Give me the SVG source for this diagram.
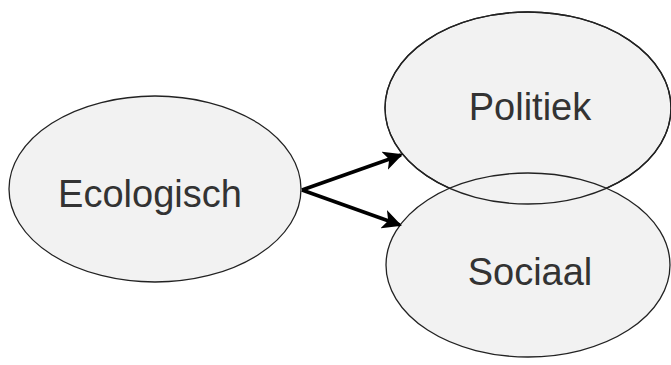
<svg xmlns="http://www.w3.org/2000/svg" width="671" height="365" viewBox="0 0 671 365">
<style>
.node{fill:#f2f2f2;stroke:#222;stroke-width:1.3}
.outline{fill:none;stroke:#222;stroke-width:1.3}
.label{font-family:"Liberation Sans",Arial,sans-serif;font-size:38px;fill:#333;text-anchor:middle}
.edge{stroke:#000;stroke-width:3.5;fill:none}
</style>
<defs>
<marker id="arrow" viewBox="0 0 10 10" refX="9" refY="5" markerWidth="5.5" markerHeight="5.5" orient="auto" markerUnits="strokeWidth">
<path d="M0,0 L10,5 L0,10 L2.5,5 z" fill="#000"/>
</marker>
</defs>
<g id="ecologisch">
<ellipse class="node" cx="155" cy="189" rx="146" ry="93"/>
<text class="label" x="150" y="207">Ecologisch</text>
</g>
<g id="politiek">
<ellipse class="node" cx="528" cy="108" rx="143" ry="96"/>
<text class="label" x="530" y="120">Politiek</text>
</g>
<g id="sociaal">
<ellipse class="node" cx="528" cy="265" rx="142" ry="92"/>
<text class="label" x="530" y="285">Sociaal</text>
</g>
<ellipse class="outline" cx="528" cy="108" rx="143" ry="96"/>
<g id="connectors">
<path class="edge" d="M302,190 L401,155" marker-end="url(#arrow)"/>
<path class="edge" d="M302,190 L400,225" marker-end="url(#arrow)"/>
</g>
</svg>
